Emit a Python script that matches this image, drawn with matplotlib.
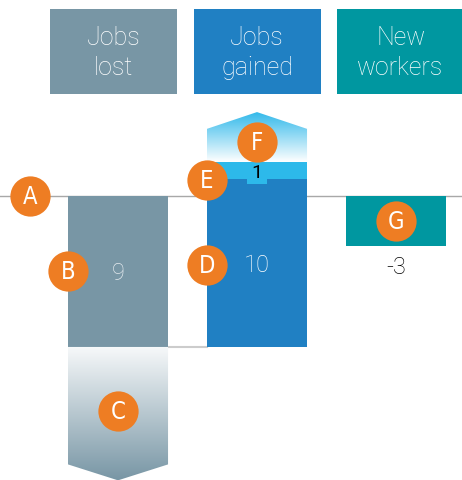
import numpy as np
import matplotlib
matplotlib.use("Agg")
from matplotlib import pyplot as plt
from matplotlib.patches import Rectangle, Polygon
from matplotlib.colors import LinearSegmentedColormap

headers = ["Jobs\nlost", "Jobs\ngained", "New\nworkers"]
lost = 9
gained = 10
extra = 1
new_workers = -3
callouts = ["A", "B", "C", "D", "E", "F", "G"]

grey = "#7896a5"
blue = "#2080c3"
light = "#2db9ea"
teal = "#0097a0"
orange = "#ee7d23"

fig = plt.figure(figsize=(4.62, 4.81), dpi=100)
ax = fig.add_axes([0, 0, 1, 1])
ax.axis("off")

w = 0.72
font = "Roboto"

# headers
for i, (h, c) in enumerate(zip(headers, [grey, blue, teal])):
    left = -0.489 + i * 1.0325
    ax.add_patch(Rectangle((left, 6.08), 0.914, 5.06, color=c, lw=0))
    ax.text(left + 0.457, 8.6, h, ha="center", va="center", color="white",
            fontsize=18, family=font, fontweight="light", linespacing=1.3)

# baseline
ax.axhline(0, color="#a8a8a8", lw=1, zorder=1)

# jobs lost
ax.bar(0, -lost, w, bottom=0, color=grey, zorder=2)
# jobs gained from the bottom of jobs lost
ax.bar(1, gained, w, bottom=-lost, color=blue, zorder=2)
top = -lost + gained
ax.bar(1, extra, w, bottom=top, color=light, zorder=2)
ax.bar(1, 0.3, 0.144, bottom=top - 0.3, color=light, zorder=3)
# new workers
ax.bar(2, new_workers, w, bottom=0, color=teal, zorder=2)

# connector
ax.plot([w / 2, 1 - w / 2], [-lost, -lost], color="#cccccc", lw=1.5, zorder=1)


def gradient_arrow(xc, y0, y1, tip, c_start, c_end):
    cmap = LinearSegmentedColormap.from_list("g", [c_start, c_end])
    grad = np.linspace(0, 1, 256).reshape(-1, 1)
    lo, hi = min(y0, tip), max(y0, tip)
    im = ax.imshow(grad, cmap=cmap, aspect="auto",
                   extent=[xc - w / 2, xc + w / 2, lo, hi], zorder=2,
                   origin="upper" if tip < y0 else "lower")
    poly = Polygon([[xc - w / 2, y0], [xc + w / 2, y0], [xc + w / 2, y1],
                    [xc, tip], [xc - w / 2, y1]], closed=True,
                   facecolor="none", edgecolor="none", transform=ax.transData)
    ax.add_patch(poly)
    im.set_clip_path(poly)


gradient_arrow(0, -lost, -16.0, -16.95, "#f7f9fa", grey)
gradient_arrow(1, top + extra, 4.0, 5.0, "#ffffff", "#2fb8ea")
ax.set_xlim(-0.849, 2.475)
ax.set_ylim(-16.93, 11.74)

# value labels
ax.text(0, -4.55, str(lost), ha="center", va="center", color="#e4eaee",
        fontsize=17, family=font, fontweight="light")
ax.text(1, -4.1, str(gained), ha="center", va="center", color="white",
        fontsize=17, family=font, fontweight="light")
ax.text(1, top + 0.4, str(extra), ha="center", va="center", color="black",
        fontsize=14, family=font)
ax.text(2, new_workers - 1.2, str(new_workers), ha="center", va="center",
        color="black", fontsize=17, family=font, fontweight="light")

# callouts
pos = [(-0.633, 0), (-w / 2, -4.5), (0, -12.8), (1 - w / 2, -4.1),
       (1 - w / 2, top - 0.05), (1, 3.2), (2, new_workers / 2)]
for (x, y), t in zip(pos, callouts):
    ax.scatter(x, y, s=840, color=orange, zorder=5, lw=0)
    ax.text(x, y, t, ha="center", va="center", color="white", fontsize=17,
            fontstretch="condensed", zorder=6)

fig.savefig("out.png", dpi=100)
